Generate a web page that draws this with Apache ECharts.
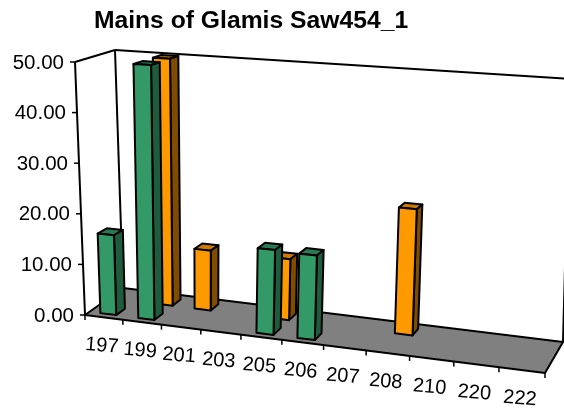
<!DOCTYPE html>
<html><head><meta charset="utf-8">
<style>html,body{margin:0;padding:0;background:#fff}#c{width:564px;height:410px}</style>
<script src="https://cdn.jsdelivr.net/npm/echarts@6/dist/echarts.min.js"></script>
</head><body><div id="c"></div>
<script>
var title = 'Mains of Glamis Saw454_1';
var categories = ['197','199','201','203','205','206','207','208','210','220','222'];
var yTicks = [0,10,20,30,40,50];
var greenValues = [15.8,50,null,null,16.2,16,null,null,null,null,null];
var orangeValues = [null,50,12,null,12,null,null,24.2,null,null,null];

var FONT='Liberation Sans, Arial, sans-serif';
var floorQuad=[[85,315],[123,288],[563,342],[545,373]]; // front-left, back-left, back-right, front-right
var topQuad=[[75,62],[115,50],[570,79],[551,92]];
function homography(q){ // maps (u,w) unit square to quad
  var x0=q[0][0],y0=q[0][1],x1=q[3][0],y1=q[3][1],x2=q[2][0],y2=q[2][1],x3=q[1][0],y3=q[1][1];
  var dx1=x1-x2,dx2=x3-x2,sx=x0-x1+x2-x3,dy1=y1-y2,dy2=y3-y2,sy=y0-y1+y2-y3;
  var d=dx1*dy2-dx2*dy1,g=(sx*dy2-dx2*sy)/d,h=(dx1*sy-sx*dy1)/d;
  var a=x1-x0+g*x1,b=x3-x0+h*x3,c=x0,dd=y1-y0+g*y1,e=y3-y0+h*y3,f=y0;
  return function(u,w){var k=g*u+h*w+1;return [(a*u+b*w+c)/k,(dd*u+e*w+f)/k];};
}
var hFloor=homography(floorQuad),hTop=homography(topQuad);
function P(u,v,w){var uu=u-0.06*u*(1-u);var a=hFloor(uu,w),b=hTop(uu,w);return [a[0]+(b[0]-a[0])*v,a[1]+(b[1]-a[1])*v];}
var LINE={stroke:'#000',lineWidth:2,lineJoin:'round'};
function poly(pts,fill){return {type:'polygon',shape:{points:pts},style:Object.assign({fill:fill},LINE)};}
function line(a,b,w){return {type:'line',shape:{x1:a[0],y1:a[1],x2:b[0],y2:b[1]},style:{stroke:'#000',lineWidth:w||2}};}
function gridRect(p){return p.coordSys;}

function barRenderer(wc,colors){
  return function(params,api){
    var val=api.value(1); if(val==null||isNaN(val)) return;
    var r=gridRect(params);
    var c=api.coord([api.value(0),val]),z=api.coord([api.value(0),0]),bw=api.size([1,0])[0];
    var uc=(c[0]-r.x)/r.width,vv=(z[1]-c[1])/r.height,hu=0.21*bw/r.width,hw=0.115;
    var u0=uc-hu,u1=uc+hu,w0=wc-hw,w1=wc+hw;
    return {type:'group',children:[
      poly([P(u0,vv,w0),P(u0,vv,w1),P(u1,vv,w1),P(u1,vv,w0)],colors[2]),
      poly([P(u1,0,w0),P(u1,0,w1),P(u1,vv,w1),P(u1,vv,w0)],colors[1]),
      poly([P(u0,0,w0),P(u1,0,w0),P(u1,vv,w0),P(u0,vv,w0)],colors[0])
    ]};
  };
}
function frameRenderer(params,api){
  var ch=[
    poly([P(0,0,0),P(0,0,1),P(1,0,1),P(1,0,0)],'#808080'),
    line(P(0,0,0),P(0,1,0)),line(P(0,1,0),P(0,1,1)),line(P(0,0,1),P(0,1,1)),
    line(P(0,1,1),P(1,1,1)),line(P(1,0,1),P(1,1,1))
  ];
  return {type:'group',children:ch};
}
function xLabelRenderer(params,api){
  var r=gridRect(params),i=api.value(0);
  var c=api.coord([i,0]),bw=api.size([1,0])[0];
  var uc=(c[0]-r.x)/r.width,u1=uc+0.5*bw/r.width;
  var mid=P(uc,0,0),t0=P(u1,0,0);
  var ch=[line(t0,[t0[0],t0[1]+5],1.5),
    {type:'text',x:mid[0]-2,y:mid[1]+28.5,rotation:-0.08,
     style:{text:categories[i],x:0,y:0,align:'center',verticalAlign:'middle',font:'20px '+FONT,fill:'#000'}}];
  if(i===0){var t=P(0,0,0);ch.push(line(t,[t[0],t[1]+5],1.5));}
  return {type:'group',children:ch};
}
function yLabelRenderer(params,api){
  var r=gridRect(params),val=api.value(1);
  var c=api.coord([0,val]),z=api.coord([0,0]);
  var p=P(0,(z[1]-c[1])/r.height,0);
  return {type:'group',children:[line(p,[p[0]-5,p[1]],1.5),
    {type:'text',x:p[0]-11,y:p[1]+1,
     style:{text:val.toFixed(2),x:0,y:0,align:'right',verticalAlign:'middle',font:'20.5px '+FONT,fill:'#000'}}]};
}
var common={type:'custom',clip:false,silent:true,animation:false};
var chart=echarts.init(document.getElementById('c'),null,{renderer:'canvas'});
chart.setOption({
  animation:false,backgroundColor:'#fff',
  title:{text:title,left:246,top:4,textAlign:'center',textStyle:{fontFamily:FONT,fontSize:24.7,fontWeight:'bold',color:'#000'}},
  grid:{left:100,right:64,top:62,height:253},
  xAxis:{type:'category',data:categories,show:false},
  yAxis:{type:'value',min:0,max:50,interval:10,show:false},
  series:[
    Object.assign({},common,{name:'frame',data:[[0,0]],renderItem:frameRenderer,encode:{x:0,y:1}}),
    Object.assign({},common,{name:'xlabels',data:categories.map(function(c,i){return [i,0];}),renderItem:xLabelRenderer,encode:{x:0,y:1}}),
    Object.assign({},common,{name:'ylabels',data:yTicks.map(function(t){return [0,t];}),renderItem:yLabelRenderer,encode:{x:0,y:1}}),
    Object.assign({},common,{name:'Orange',data:orangeValues.map(function(v,i){return [i,v];}),renderItem:barRenderer(0.74,['#FF9900','#804D00','#CC7A00']),encode:{x:0,y:1}}),
    Object.assign({},common,{name:'Green',data:greenValues.map(function(v,i){return [i,v];}),renderItem:barRenderer(0.23,['#339966','#1F5C3D','#297A52']),encode:{x:0,y:1}})
  ]
});
</script></body></html>
